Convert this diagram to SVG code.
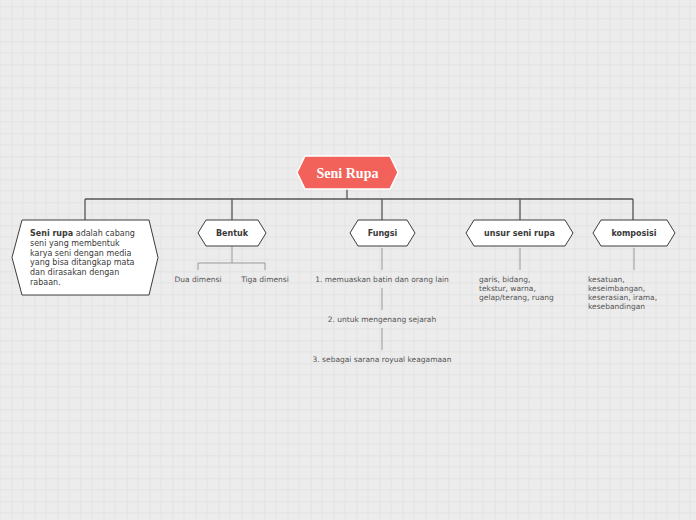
<svg xmlns="http://www.w3.org/2000/svg" width="696" height="520" viewBox="0 0 696 520">
<style>
.n{fill:#fff;stroke:#3d3d3d;stroke-width:1}
.t{font-family:"DejaVu Sans",Verdana,sans-serif;font-size:8px;fill:#3a3a3a}
.b{font-weight:bold;text-anchor:middle}
.s{font-family:"DejaVu Sans",Verdana,sans-serif;font-size:7.5px;fill:#555}
.m{text-anchor:middle}
.c{fill:none;stroke:#555;stroke-width:1.3}
.g{fill:none;stroke:#9a9a9a;stroke-width:1}
</style>
<defs>
<pattern id="grid" x="11.5" y="18.3" width="23" height="23" patternUnits="userSpaceOnUse">
<path d="M11.5 0V23M0 11.5H23" fill="none" stroke="#e3e3e3" stroke-width="1"/>
<path d="M0 0V23M0 0H23" fill="none" stroke="#dadada" stroke-width="1"/>
</pattern>
</defs>
<rect width="696" height="520" fill="#ececec"/>
<rect width="696" height="520" fill="url(#grid)"/>
<g id="connectors">
<path class="c" d="M347 189V199M85 199H633M85 199V220M232 199V220M382 199V220M520 199V220M633 199V220"/>
<path class="g" d="M232 246V263M198 263H265M198 263V270M265 263V270"/>
<path class="g" d="M382 248V270M382 288V310M382 328V350"/>
<path class="g" d="M520 248V270"/>
<path class="g" d="M634 248V270"/>
</g>
<g id="root">
<polygon points="297,172.5 305,156 390,156 398,172.5 390,189 305,189" fill="#f2625a" stroke="#fff" stroke-width="1.5"/>
<text x="347.5" y="177.5" text-anchor="middle" font-family="Liberation Serif,serif" font-weight="bold" font-size="14" fill="#fff">Seni Rupa</text>
</g>
<g id="def">
<polygon class="n" points="12,257.5 22,220 149,220 158,257.5 149,295 22,295"/>
<text class="t" x="30" y="236"><tspan font-weight="bold">Seni rupa</tspan> adalah cabang</text>
<text class="t" x="30" y="245.8">seni yang membentuk</text>
<text class="t" x="30" y="255.6">karya seni dengan media</text>
<text class="t" x="30" y="265.4">yang bisa ditangkap mata</text>
<text class="t" x="30" y="275.2">dan dirasakan dengan</text>
<text class="t" x="30" y="285">rabaan.</text>
</g>
<g id="bentuk">
<polygon class="n" points="198,233 206,220 258,220 266,233 258,246 206,246"/>
<text class="t b" x="232" y="236">Bentuk</text>
</g>
<g id="dua"><text class="s m" x="198" y="281.5">Dua dimensi</text></g>
<g id="tiga"><text class="s m" x="265" y="281.5">Tiga dimensi</text></g>
<g id="fungsi">
<polygon class="n" points="350,233 358,220 407,220 415,233 407,246 358,246"/>
<text class="t b" x="382.5" y="236">Fungsi</text>
</g>
<g id="f1"><text class="s m" x="382" y="281.5">1. memuaskan batin dan orang lain</text></g>
<g id="f2"><text class="s m" x="382" y="321.5">2. untuk mengenang sejarah</text></g>
<g id="f3"><text class="s m" x="382" y="361.5">3. sebagai sarana royual keagamaan</text></g>
<g id="unsur">
<polygon class="n" points="466,233 474,220 565,220 573,233 565,246 474,246"/>
<text class="t b" x="519.5" y="236">unsur seni rupa</text>
</g>
<g id="unsur-txt">
<text class="s" x="479" y="281.5">garis, bidang,</text>
<text class="s" x="479" y="290.8">tekstur, warna,</text>
<text class="s" x="479" y="300.1">gelap/terang, ruang</text>
</g>
<g id="komposisi">
<polygon class="n" points="593,233 601,220 667,220 675,233 667,246 601,246"/>
<text class="t b" x="634" y="236">komposisi</text>
</g>
<g id="komp-txt">
<text class="s" x="588" y="281.5">kesatuan,</text>
<text class="s" x="588" y="290.8">keseimbangan,</text>
<text class="s" x="588" y="300.1">keserasian, irama,</text>
<text class="s" x="588" y="309.4">kesebandingan</text>
</g>
</svg>
